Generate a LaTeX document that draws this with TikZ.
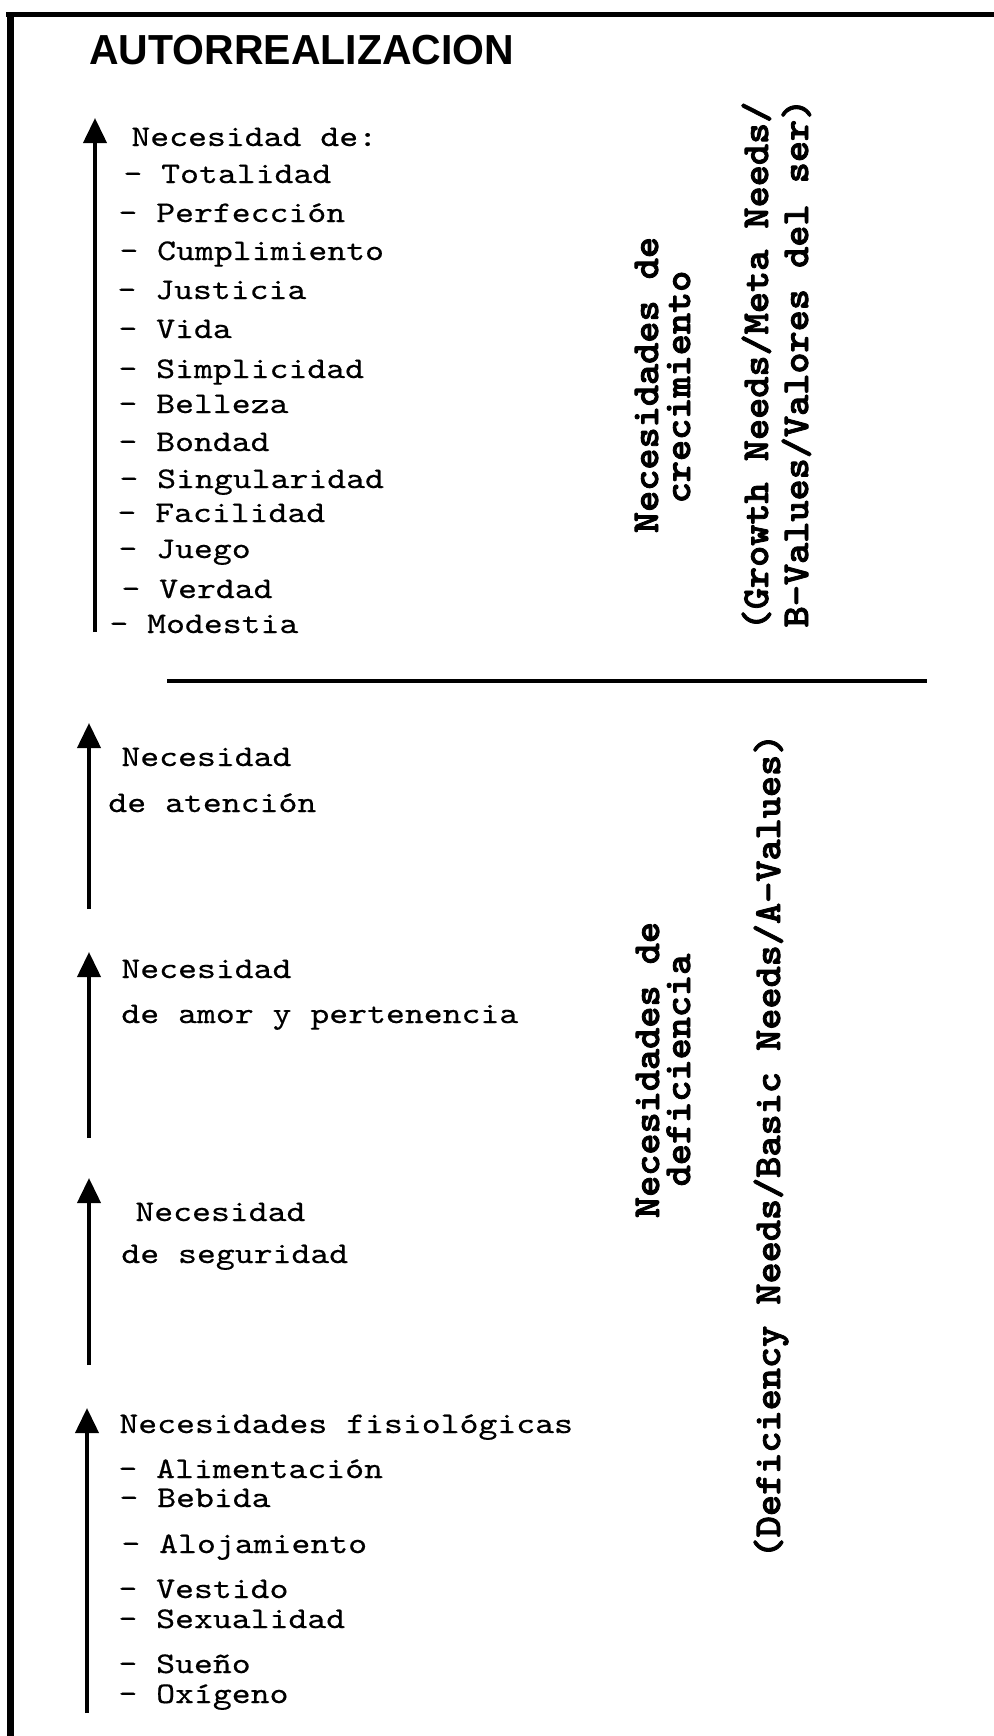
\documentclass[tikz,border=0pt]{standalone}
\usepackage{fontspec}
\usepackage{graphicx}
\newfontfamily\headfont{Liberation Sans}
\newfontfamily\typefont{lmmono10-regular.otf}[FakeStretch=1.2, FakeBold=0.4]
\newfontfamily\heavytype{lmmonolt10-bold.otf}[FakeStretch=1.06, FakeBold=2.2]
\usetikzlibrary{arrows.meta}
\begin{document}
\begin{tikzpicture}[x=0.5pt,y=-0.5pt,
  item/.style={anchor=base west, inner sep=0pt, font=\typefont\fontsize{15}{18}\selectfont},
  side/.style={anchor=base, inner sep=0pt, rotate=90, font=\heavytype\fontsize{19}{22}\selectfont},
  rise/.style={line width=2pt, -{Triangle[width=11.5pt,length=12.5pt]}},
  rule/.style={line width=2pt}]

% page and frame
\fill[white] (0,0) rectangle (994,1736);
\useasboundingbox (0,0) rectangle (994,1736);
\coordinate (ftl) at (10,14.5);
\coordinate (ftr) at (994,14.5);
\coordinate (fbl) at (10,1736);
\draw[line width=2.5pt] (6,14.5) -- (ftr);
\draw[line width=3.5pt] (10,12) -- (fbl);

% title
\node[anchor=base west, inner sep=0pt, font=\headfont\bfseries\fontsize{21}{24}\selectfont] (title) at (89,64) {\scalebox{0.975}[1]{AUTORREALIZACION}};

% growth needs
\coordinate (a1s) at (95,632);
\coordinate (a1e) at (95,118);
\draw[rise] (a1s) -- (a1e);
\node[item] (g0)  at (131,146) {Necesidad de:};
\node[item] (g1)  at (123,183) {- Totalidad};
\node[item] (g2)  at (118,222) {- Perfección};
\node[item] (g3)  at (119,260) {- Cumplimiento};
\node[item] (g4)  at (117,299) {- Justicia};
\node[item] (g5)  at (118,338) {- Vida};
\node[item] (g6)  at (118,378) {- Simplicidad};
\node[item] (g7)  at (118,413) {- Belleza};
\node[item] (g8)  at (118,451) {- Bondad};
\node[item] (g9)  at (119,488) {- Singularidad};
\node[item] (g10) at (117,522) {- Facilidad};
\node[item] (g11) at (118,558) {- Juego};
\node[item] (g12) at (121,598) {- Verdad};
\node[item] (g13) at (109,633) {- Modestia};

\node[side] (gA) at (658,385) {Necesidades de};
\node[side] (gB) at (690,387) {crecimiento};
\node[side] (gC) at (768,366) {(Growth Needs/Meta Needs/};
\node[side] (gD) at (808,363) {B-Values/Valores del ser)};

% divider
\coordinate (dl) at (167,681);
\coordinate (dr) at (927,681);
\draw[rule] (dl) -- (dr);

% esteem
\coordinate (a2s) at (89,909);
\coordinate (a2e) at (89,723);
\draw[rise] (a2s) -- (a2e);
\node[item] (e1) at (121,766) {Necesidad};
\node[item] (e2) at (108,812) {de atención};

% love and belonging
\coordinate (a3s) at (89,1138);
\coordinate (a3e) at (89,952);
\draw[rise] (a3s) -- (a3e);
\node[item] (l1) at (121,978) {Necesidad};
\node[item] (l2) at (121,1023) {de amor y pertenencia};

% safety
\coordinate (a4s) at (89,1365);
\coordinate (a4e) at (89,1178);
\draw[rise] (a4s) -- (a4e);
\node[item] (s1) at (135,1221) {Necesidad};
\node[item] (s2) at (121,1263) {de seguridad};

% physiological
\coordinate (a5s) at (87,1713);
\coordinate (a5e) at (87,1408);
\draw[rise] (a5s) -- (a5e);
\node[item] (p0) at (119,1433) {Necesidades fisiológicas};
\node[item] (p1) at (118,1478) {- Alimentación};
\node[item] (p2) at (119,1507) {- Bebida};
\node[item] (p3) at (121,1553) {- Alojamiento};
\node[item] (p4) at (118,1598) {- Vestido};
\node[item] (p5) at (118,1628) {- Sexualidad};
\node[item] (p6) at (118,1673) {- Sueño};
\node[item] (p7) at (118,1703) {- Oxígeno};

\node[side] (dA) at (659,1070) {Necesidades de};
\node[side] (dB) at (690,1070) {deficiencia};
\node[side] (dC) at (780,1146) {(Deficiency Needs/Basic Needs/A-Values)};
\end{tikzpicture}
\end{document}
